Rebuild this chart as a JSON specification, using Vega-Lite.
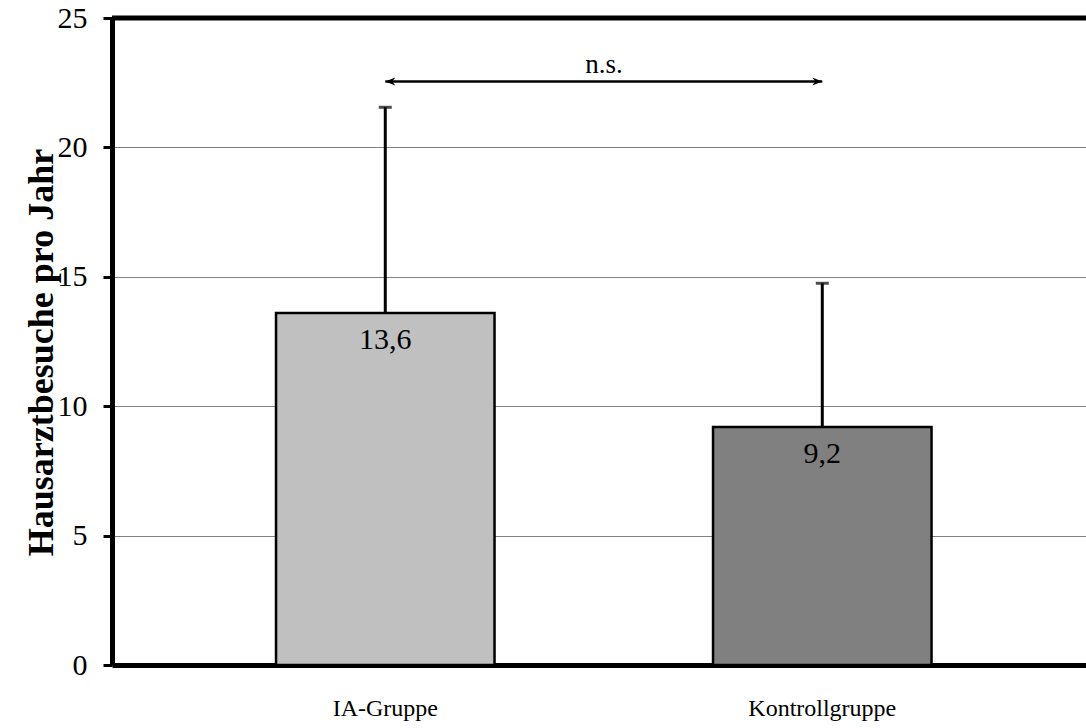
{
  "$schema": "https://vega.github.io/schema/vega-lite/v6.json",
  "width": 974,
  "height": 647,
  "autosize": {"type": "none"},
  "padding": {"left": 112, "top": 18, "right": 0, "bottom": 63},
  "background": "white",
  "config": {
    "view": {"stroke": null},
    "font": "Liberation Serif",
    "axis": {"labelFont": "Liberation Serif", "titleFont": "Liberation Serif", "labelColor": "black", "titleColor": "black"}
  },
  "datasets": {
    "gruppen": [
      {"gruppe": "IA-Gruppe", "mittel": 13.6, "oben": 21.55, "beschriftung": "13,6"},
      {"gruppe": "Kontrollgruppe", "mittel": 9.2, "oben": 14.75, "beschriftung": "9,2"}
    ],
    "vergleich": [
      {"von": "IA-Gruppe", "bis": "Kontrollgruppe", "hoehe": 22.55, "text": "n.s."}
    ]
  },
  "layer": [
    {
      "data": {"name": "gruppen"},
      "mark": {"type": "bar", "stroke": "black", "strokeWidth": 2.5},
      "encoding": {
        "x": {
          "field": "gruppe", "type": "nominal", "sort": null,
          "scale": {"paddingInner": 0.5, "paddingOuter": 0.3644, "align": 0.515},
          "axis": {
            "title": null, "labelAngle": 0, "ticks": false, "tickSize": 0,
            "labelFontSize": 24, "labelPadding": 31,
            "domainColor": "black", "domainWidth": 5
          }
        },
        "y": {
          "field": "mittel", "type": "quantitative",
          "scale": {"domain": [0, 25], "nice": false},
          "axis": {
            "title": "Hausarztbesuche pro Jahr", "titleFontSize": 36, "titleFontWeight": "bold",
            "titleX": -71, "titleY": 334, "titleBaseline": "middle",
            "values": [0, 5, 10, 15, 20, 25],
            "labelFontSize": 30, "labelPadding": 16,
            "tickSize": 9, "tickWidth": 3, "tickColor": "black",
            "domainColor": "black", "domainWidth": 5,
            "grid": true, "gridColor": "#808080", "gridWidth": 1
          }
        },
        "color": {
          "field": "gruppe", "type": "nominal", "legend": null,
          "scale": {"domain": ["IA-Gruppe", "Kontrollgruppe"], "range": ["#C0C0C0", "#808080"]}
        }
      }
    },
    {
      "data": {"name": "gruppen"},
      "mark": {"type": "rule", "color": "black", "strokeWidth": 3},
      "encoding": {
        "x": {"field": "gruppe", "type": "nominal", "sort": null},
        "y": {"field": "mittel", "type": "quantitative"},
        "y2": {"field": "oben"}
      }
    },
    {
      "data": {"name": "gruppen"},
      "mark": {"type": "tick", "color": "black", "size": 13, "thickness": 3, "orient": "horizontal"},
      "encoding": {
        "x": {"field": "gruppe", "type": "nominal", "sort": null},
        "y": {"field": "oben", "type": "quantitative"}
      }
    },
    {
      "data": {"name": "gruppen"},
      "mark": {"type": "text", "fontSize": 30, "color": "black", "baseline": "middle", "dy": 27},
      "encoding": {
        "x": {"field": "gruppe", "type": "nominal", "sort": null},
        "y": {"field": "mittel", "type": "quantitative"},
        "text": {"field": "beschriftung"}
      }
    },
    {
      "data": {"name": "vergleich"},
      "mark": {"type": "rule", "color": "black", "strokeWidth": 2.5},
      "encoding": {
        "x": {"field": "von", "type": "nominal"},
        "x2": {"field": "bis"},
        "y": {"field": "hoehe", "type": "quantitative"}
      }
    },
    {
      "data": {"name": "vergleich"},
      "mark": {"type": "point", "filled": true, "color": "black", "opacity": 1, "size": 400, "shape": "M0,0 L1,-0.4 L0.7,0 L1,0.4 Z"},
      "encoding": {
        "x": {"field": "von", "type": "nominal"},
        "y": {"field": "hoehe", "type": "quantitative"}
      }
    },
    {
      "data": {"name": "vergleich"},
      "mark": {"type": "point", "filled": true, "color": "black", "opacity": 1, "size": 400, "shape": "M0,0 L-1,-0.4 L-0.7,0 L-1,0.4 Z"},
      "encoding": {
        "x": {"field": "bis", "type": "nominal"},
        "y": {"field": "hoehe", "type": "quantitative"}
      }
    },
    {
      "data": {"name": "vergleich"},
      "mark": {"type": "text", "fontSize": 27, "color": "black", "baseline": "middle", "dy": -16},
      "encoding": {
        "x": {"value": 492},
        "y": {"field": "hoehe", "type": "quantitative"},
        "text": {"field": "text"}
      }
    },
    {
      "data": {"values": [{}]},
      "mark": {"type": "rule", "color": "black", "strokeWidth": 5},
      "encoding": {"y": {"datum": 25}}
    }
  ]
}
